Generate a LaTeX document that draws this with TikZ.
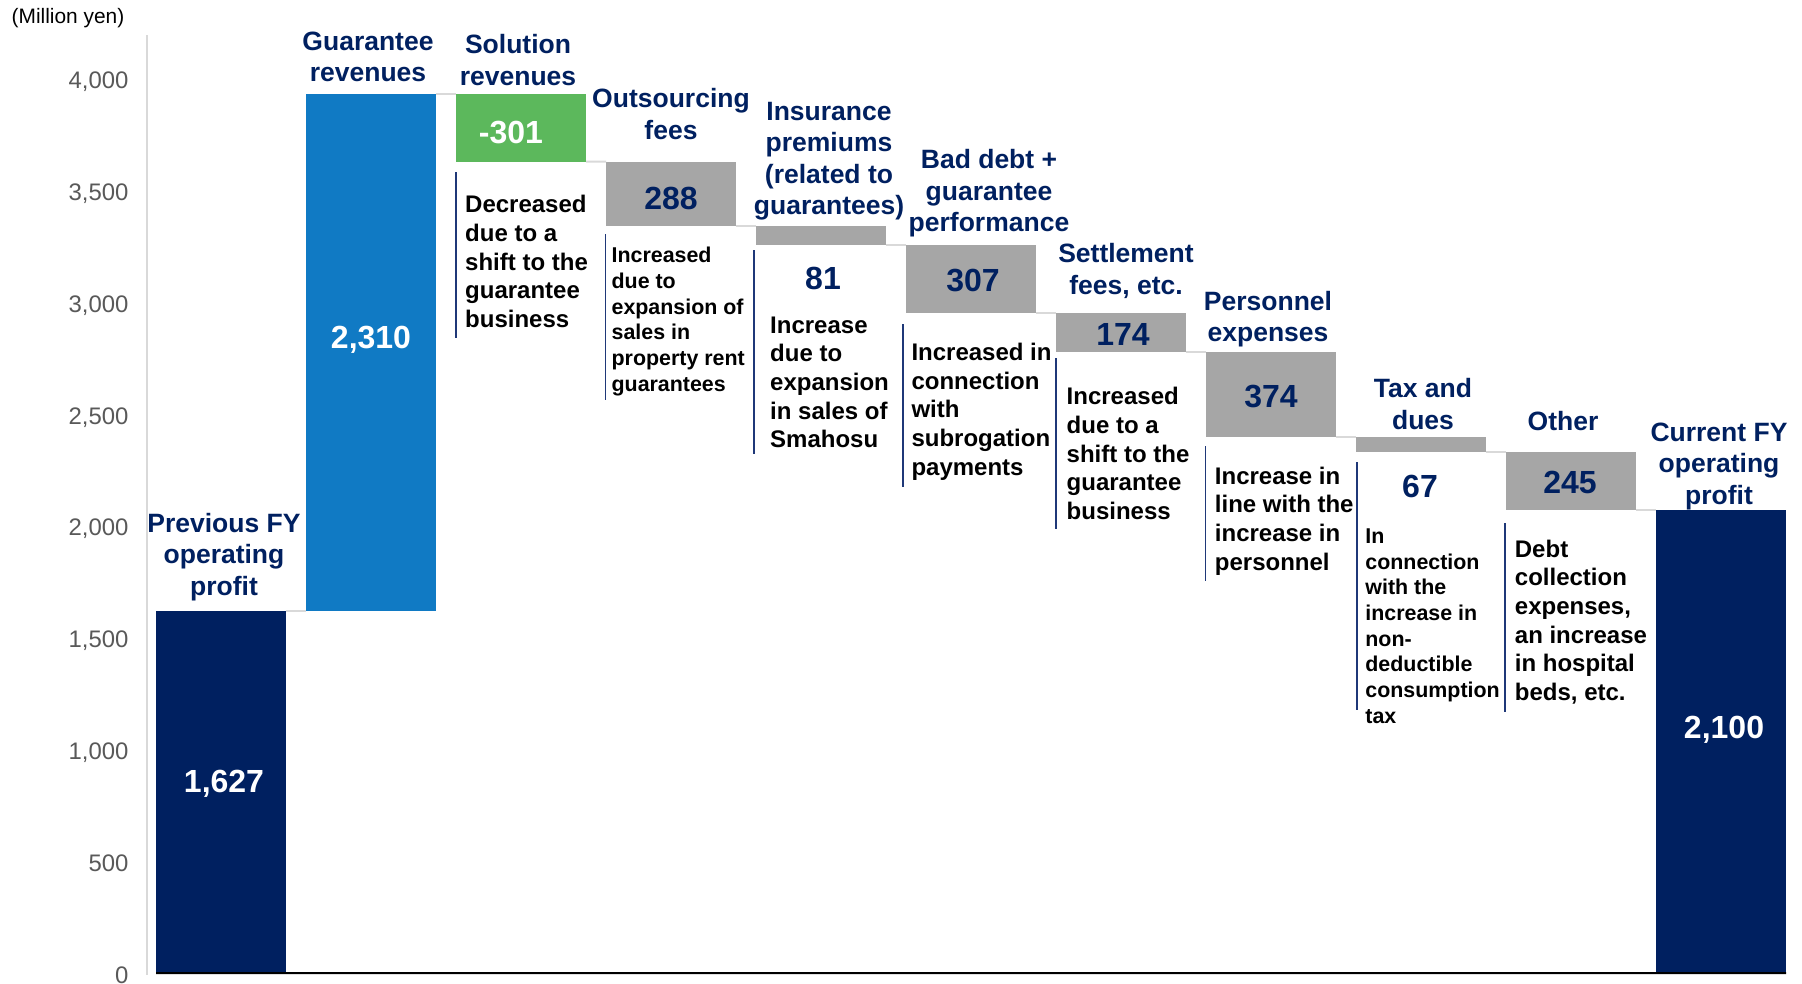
\documentclass[tikz,border=0pt]{standalone}
\usepackage{fontspec}
\setmainfont{Liberation Sans}
\definecolor{navy}{RGB}{0,32,96}
\definecolor{barblue}{RGB}{16,122,196}
\definecolor{bargreen}{RGB}{92,184,92}
\definecolor{bargray}{RGB}{166,166,166}
\definecolor{tickgray}{RGB}{89,89,89}
\definecolor{axisgray}{RGB}{217,217,217}
\definecolor{linknavy}{RGB}{31,56,120}
\begin{document}
\begin{tikzpicture}[x=1pt,y=-1pt,
  bar/.style={inner sep=0pt, outer sep=0pt, minimum width=130pt, anchor=north west},
  lab/.style={font=\fontsize{26.5}{31.5}\selectfont\bfseries, text=navy, align=center, inner sep=0pt},
  val/.style={font=\fontsize{32}{38}\selectfont\bfseries, inner sep=0pt, anchor=base},
  desc/.style={font=\fontsize{24}{28.7}\selectfont\bfseries, align=left, inner sep=0pt, anchor=west},
  descs/.style={font=\fontsize{21.4}{25.7}\selectfont\bfseries, align=left, inner sep=0pt, anchor=west},
  tick/.style={font=\fontsize{23.9}{28}\selectfont, text=tickgray, anchor=base east, inner sep=0pt},
  link/.style={draw=axisgray, line width=2pt},
  descmark/.style={draw=linknavy, line width=1.6pt}
]
\useasboundingbox (0,0) rectangle (1802,983);
\fill[white] (0,0) rectangle (1802,983);

% axis
\coordinate (axtop) at (147,35);
\coordinate (axbot) at (147,975);
\draw[draw=axisgray, line width=2pt] (axtop) -- (axbot);
\node[font=\fontsize{20.9}{25}\selectfont, anchor=west, inner sep=0pt] (unit) at (11.5,18.4) {(Million yen)};
\foreach \v/\t in {0/0,1/500,2/{1,000},3/{1,500},4/{2,000},5/{2,500},6/{3,000},7/{3,500},8/{4,000}}{
  \node[tick] (tk\v) at (128.7,{974.5-111.8*\v+8.6}) {\t};
}

% bars
\node[bar, fill=navy, minimum height=362.3pt] (b1) at (156,610.7) {};
\node[bar, fill=barblue, minimum height=516.5pt] (b2) at (306,94.2) {};
\node[bar, fill=bargreen, minimum height=67.3pt] (b3) at (456,94.2) {};
\node[bar, fill=bargray, minimum height=64.4pt] (b4) at (606,161.5) {};
\node[bar, fill=bargray, minimum height=18.6pt] (b5) at (756,225.9) {};
\node[bar, fill=bargray, minimum height=68.1pt] (b6) at (906,244.5) {};
\node[bar, fill=bargray, minimum height=39.0pt] (b7) at (1056,312.6) {};
\node[bar, fill=bargray, minimum height=84.9pt] (b8) at (1206,351.6) {};
\node[bar, fill=bargray, minimum height=15.0pt] (b9) at (1356,436.5) {};
\node[bar, fill=bargray, minimum height=58.5pt] (b10) at (1506,451.5) {};
\node[bar, fill=navy, minimum height=463pt] (b11) at (1656,510) {};

% connectors
\draw[link] (b1.north east) -- (b2.south west);
\draw[link] (b2.north east) -- (b3.north west);
\draw[link] (b3.south east) -- (b4.north west);
\draw[link] (b4.south east) -- (b5.north west);
\draw[link] (b5.south east) -- (b6.north west);
\draw[link] (b6.south east) -- (b7.north west);
\draw[link] (b7.south east) -- (b8.north west);
\draw[link] (b8.south east) -- (b9.north west);
\draw[link] (b9.south east) -- (b10.north west);
\draw[link] (b10.south east) -- (b11.north west);

% baseline
\draw[black, line width=2pt] (b1.south west) -- (b11.south east);

% category labels
\node[lab] (l1) at (224,557) {Previous FY\\operating\\profit};
\node[lab] (l2) at (368,57) {Guarantee\\revenues};
\node[lab] (l3) at (518,60) {Solution\\revenues};
\node[lab] (l4) at (671,114) {Outsourcing\\fees};
\node[lab] (l5) at (829,161) {Insurance\\premiums\\(related to\\guarantees)};
\node[lab] (l6) at (989,193.5) {Bad debt +\\guarantee\\performance};
\node[lab] (l7) at (1126,271) {Settlement\\fees, etc.};
\node[lab] (l8) at (1268,319) {Personnel\\expenses};
\node[lab] (l9) at (1423,404) {Tax and\\dues};
\node[lab] (l10) at (1563,421) {Other};
\node[lab] (l11) at (1719,466) {Current FY\\operating\\profit};

% values
\node[val, text=white] (v1) at (224,792.5) {1,627};
\node[val, text=white] (v2) at (371,348.5) {2,310};
\node[val, text=white] (v3) at (511,143.5) {-301};
\node[val, text=navy] (v4) at (671,209.5) {288};
\node[val, text=navy] (v5) at (823,289.5) {81};
\node[val, text=navy] (v6) at (973,291.5) {307};
\node[val, text=navy] (v7) at (1123,345.5) {174};
\node[val, text=navy] (v8) at (1271,407.5) {374};
\node[val, text=navy] (v9) at (1420,497.5) {67};
\node[val, text=navy] (v10) at (1570,493.5) {245};
\node[val, text=white] (v11) at (1724,738.5) {2,100};

% description markers
\draw[descmark] (456,172) -- (456,338);
\draw[descmark] (605.6,234) -- (605.6,400);
\draw[descmark] (754,250) -- (754,454);
\draw[descmark] (903,324) -- (903,487);
\draw[descmark] (1056,358) -- (1056,529);
\draw[descmark] (1205.5,446) -- (1205.5,581);
\draw[descmark] (1357,462) -- (1357,710);
\draw[descmark] (1505,523) -- (1505,712);

% descriptions
\node[desc] (d3) at (465,261.7) {Decreased\\due to a\\shift to the\\guarantee\\business};
\node[descs] (d4) at (611.4,321.5) {Increased\\due to\\expansion of\\sales in\\property rent\\guarantees};
\node[desc] (d5) at (770,382.4) {Increase\\due to\\expansion\\in sales of\\Smahosu};
\node[desc] (d6) at (911.3,411.7) {Increased in\\connection\\with\\subrogation\\payments};
\node[desc] (d7) at (1066.5,453.6) {Increased\\due to a\\shift to the\\guarantee\\business};
\node[desc] (d8) at (1214.7,520.9) {Increase in\\line with the\\increase in\\personnel};
\node[descs] (d9) at (1365.2,626) {In\\connection\\with the\\increase in\\non-\\deductible\\consumption\\tax};
\node[desc] (d10) at (1514.7,622) {Debt\\collection\\expenses,\\an increase\\in hospital\\beds, etc.};
\end{tikzpicture}
\end{document}
